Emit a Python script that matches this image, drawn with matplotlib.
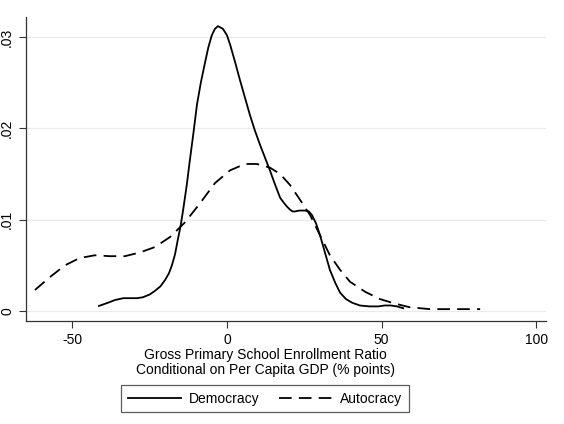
import matplotlib
matplotlib.use("Agg")
import matplotlib.pyplot as plt
from matplotlib.ticker import FixedLocator, FixedFormatter

plt.rcParams['font.family'] = ['Liberation Sans', 'DejaVu Sans']

# Democracy density curve
demo_x = [-41.4, -38.5, -36.2, -33.5, -31.4, -29.0, -27.2, -25.0, -23.3, -21.5, -20.0, -18.8, -17.8,
          -16.8, -15.9, -15.0, -14.2, -13.0, -12.0, -10.8, -9.7, -8.4, -7.1, -6.0, -4.9, -3.9, -2.9,
          -1.3, 0.0, 1.0, 2.6, 4.2, 5.8, 7.4, 9.0, 10.7, 12.3, 13.9, 15.5, 17.2, 18.5, 19.5, 20.4,
          21.2, 22.0, 23.5, 25.2, 26.5, 27.5, 28.8, 30.1, 31.7, 33.3, 35.0, 36.6, 38.5, 40.5, 43.0,
          46.0, 49.0, 51.0, 53.0, 55.0, 57.0]
demo_y = [0.00055, 0.0009, 0.0012, 0.0014, 0.0014, 0.0014, 0.0015, 0.0018, 0.0022, 0.0027,
          0.0034, 0.0041, 0.0050, 0.0062, 0.0078, 0.0093, 0.0110, 0.0138, 0.0165, 0.0196,
          0.0226, 0.0251, 0.0272, 0.0289, 0.0302, 0.0309, 0.0312, 0.0309, 0.0302, 0.0292,
          0.0273, 0.0253, 0.0234, 0.0215, 0.0198, 0.0182, 0.0168, 0.0154, 0.0139, 0.0124,
          0.0118, 0.0114, 0.0111, 0.0109, 0.0109, 0.0110, 0.0110, 0.0109, 0.0105, 0.0096,
          0.0083, 0.0064, 0.0045, 0.0031, 0.0020, 0.0013, 0.0009, 0.0006, 0.0005, 0.0005,
          0.0006, 0.0006, 0.0005, 0.0003]

# Autocracy density curve
auto_x = [-62.1, -57.3, -52.4, -47.6, -42.7, -37.9, -33.0, -28.2, -23.3, -18.4, -13.6, -8.7,
          -3.9, 1.0, 5.8, 9.7, 13.9, 17.2, 20.4, 23.6, 26.9, 30.1, 33.3, 36.6, 39.8, 44.7,
          49.5, 54.4, 59.2, 65.7, 70.6, 81.9]
auto_y = [0.0023, 0.0037, 0.0050, 0.0058, 0.0061, 0.0060, 0.0060, 0.0064, 0.0070, 0.0081,
          0.0097, 0.0118, 0.0140, 0.0154, 0.0161, 0.0161, 0.0157, 0.0150, 0.0138, 0.0122,
          0.0105, 0.0083, 0.0061, 0.0045, 0.0032, 0.0021, 0.0013, 0.0008, 0.0004, 0.0002,
          0.0002, 0.0002]

xticks = [-50, 0, 50, 100]
xticklabels = ['-50', '0', '50', '100']
yticks = [0, 0.01, 0.02, 0.03]
yticklabels = ['0', '.01', '.02', '.03']

fig = plt.figure(figsize=(5.64, 4.24), dpi=100)
ax = fig.add_axes([26/564, 1-321/424, 520/564, 304/424])

l1, = ax.plot(demo_x, demo_y, color='black', lw=1.3, label='Democracy')
l2, = ax.plot(auto_x, auto_y, color='black', lw=1.3, linestyle=(0, (7, 4)), label='Autocracy')

ax.set_xlim(-65, 103.2)
ax.set_ylim(-0.0011, 0.0322)

ax.xaxis.set_major_locator(FixedLocator(xticks))
ax.xaxis.set_major_formatter(FixedFormatter(xticklabels))
ax.yaxis.set_major_locator(FixedLocator(yticks))
ax.yaxis.set_major_formatter(FixedFormatter(yticklabels))

for t in ax.get_yticklabels():
    t.set_rotation(90)
    t.set_va('center')

ax.tick_params(axis='both', direction='out', length=5, width=0.8, colors='#333333',
               labelsize=10, labelcolor='black')
ax.grid(axis='y', color='#e8ece8', lw=0.9)
ax.set_axisbelow(True)
for s in ['top', 'right']:
    ax.spines[s].set_visible(False)
for s in ['left', 'bottom']:
    ax.spines[s].set_color('#333333')
    ax.spines[s].set_linewidth(0.9)

ax.set_xlabel('Gross Primary School Enrollment Ratio\nConditional on Per Capita GDP (% points)',
              fontsize=10, linespacing=1.1)
ax.xaxis.set_label_coords((265-26)/520, -0.088, transform=ax.transAxes)
ax.xaxis.label.set_va('top')

leg = fig.legend(handles=[l1, l2], loc='center', bbox_to_anchor=(265/564, 1-398.5/424),
                 ncol=2, frameon=True, fancybox=False, edgecolor='#333333', fontsize=10,
                 handlelength=3.8, columnspacing=1.4, borderpad=0.5, handletextpad=0.6)
leg.get_frame().set_linewidth(0.9)

fig.savefig('out.png', dpi=100)
